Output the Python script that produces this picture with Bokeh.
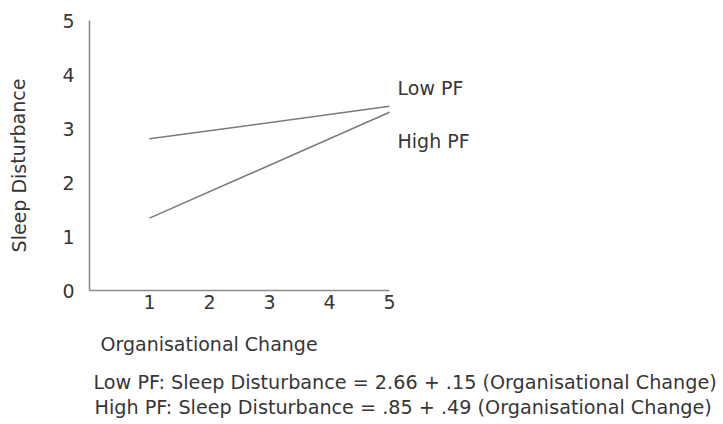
from bokeh.plotting import figure
from bokeh.models import Range1d, FixedTicker
from bokeh.core.properties import value
from bokeh.embed import file_html
from bokeh.resources import INLINE

# Interaction of organisational change and PF on sleep disturbance
x_points = [1, 5]
low_pf = [2.81, 3.41]    # 2.66 + .15 * x
high_pf = [1.34, 3.30]   # .85 + .49 * x
x_ticks = [1, 2, 3, 4, 5]
y_ticks = [0, 1, 2, 3, 4, 5]
series_names = ["Low PF", "High PF"]
x_title = "Organisational Change"
y_title = "Sleep Disturbance"
equations = [
    "Low PF: Sleep Disturbance = 2.66 + .15 (Organisational Change)",
    "High PF: Sleep Disturbance = .85 + .49 (Organisational Change)",
]

W, H = 723, 424
X0, Y0 = 89, 290          # canvas position of the origin
SX, SY = 60.0, 54.0       # pixels per unit on each axis

FONT = "DejaVu Sans"
TXT = "#363636"
SIZE = "19px"
EQ_SIZE = "19.2px"

# The frame fills the whole canvas; the axes sit at the data origin.
p = figure(width=W, height=H, output_backend="svg", toolbar_location=None,
           x_range=Range1d(-X0 / SX, (W - X0) / SX),
           y_range=Range1d(-(H - Y0) / SY, Y0 / SY),
           min_border_left=0, min_border_right=0,
           min_border_top=0, min_border_bottom=0)
p.outline_line_color = None
p.grid.visible = False
p.background_fill_color = "white"
p.border_fill_color = "white"

for ax in (p.xaxis[0], p.yaxis[0]):
    ax.fixed_location = 0
    ax.bounds = (0, 5)
    ax.axis_line_color = "#8c8c8c"
    ax.axis_line_width = 1.6
    ax.major_tick_out = 0
    ax.major_tick_in = 0
    ax.minor_tick_out = 0
    ax.minor_tick_in = 0
    ax.major_tick_line_color = None
    ax.minor_tick_line_color = None
    ax.major_label_text_font = FONT
    ax.major_label_text_font_size = SIZE
    ax.major_label_text_color = TXT

p.xaxis.ticker = FixedTicker(ticks=x_ticks)
p.yaxis.ticker = FixedTicker(ticks=y_ticks)
p.xaxis.major_label_standoff = 4
p.yaxis.major_label_standoff = 15

p.line(x_points, low_pf, line_color="#7a7a7a", line_width=1.5)
p.line(x_points, high_pf, line_color="#7a7a7a", line_width=1.5)


def dx(px):
    return (px - X0) / SX


def dy(py):
    return (Y0 - py) / SY


def add_text(text, px, py, align="left", angle=0.0, size=SIZE):
    p.text(x=[dx(px)], y=[dy(py)], text=[text], angle=angle,
           text_font=value(FONT), text_font_size=size, text_color=TXT,
           text_align=align, text_baseline="middle")


add_text(series_names[0], 397, 87)
add_text(series_names[1], 397, 140)
add_text(x_title, 100, 343)
add_text(y_title, 18, 165, align="center", angle=1.5708)
add_text(equations[0], 93, 382, size=EQ_SIZE)
add_text(equations[1], 94, 407, size=EQ_SIZE)

open("out.html", "w").write(file_html(p, INLINE))
